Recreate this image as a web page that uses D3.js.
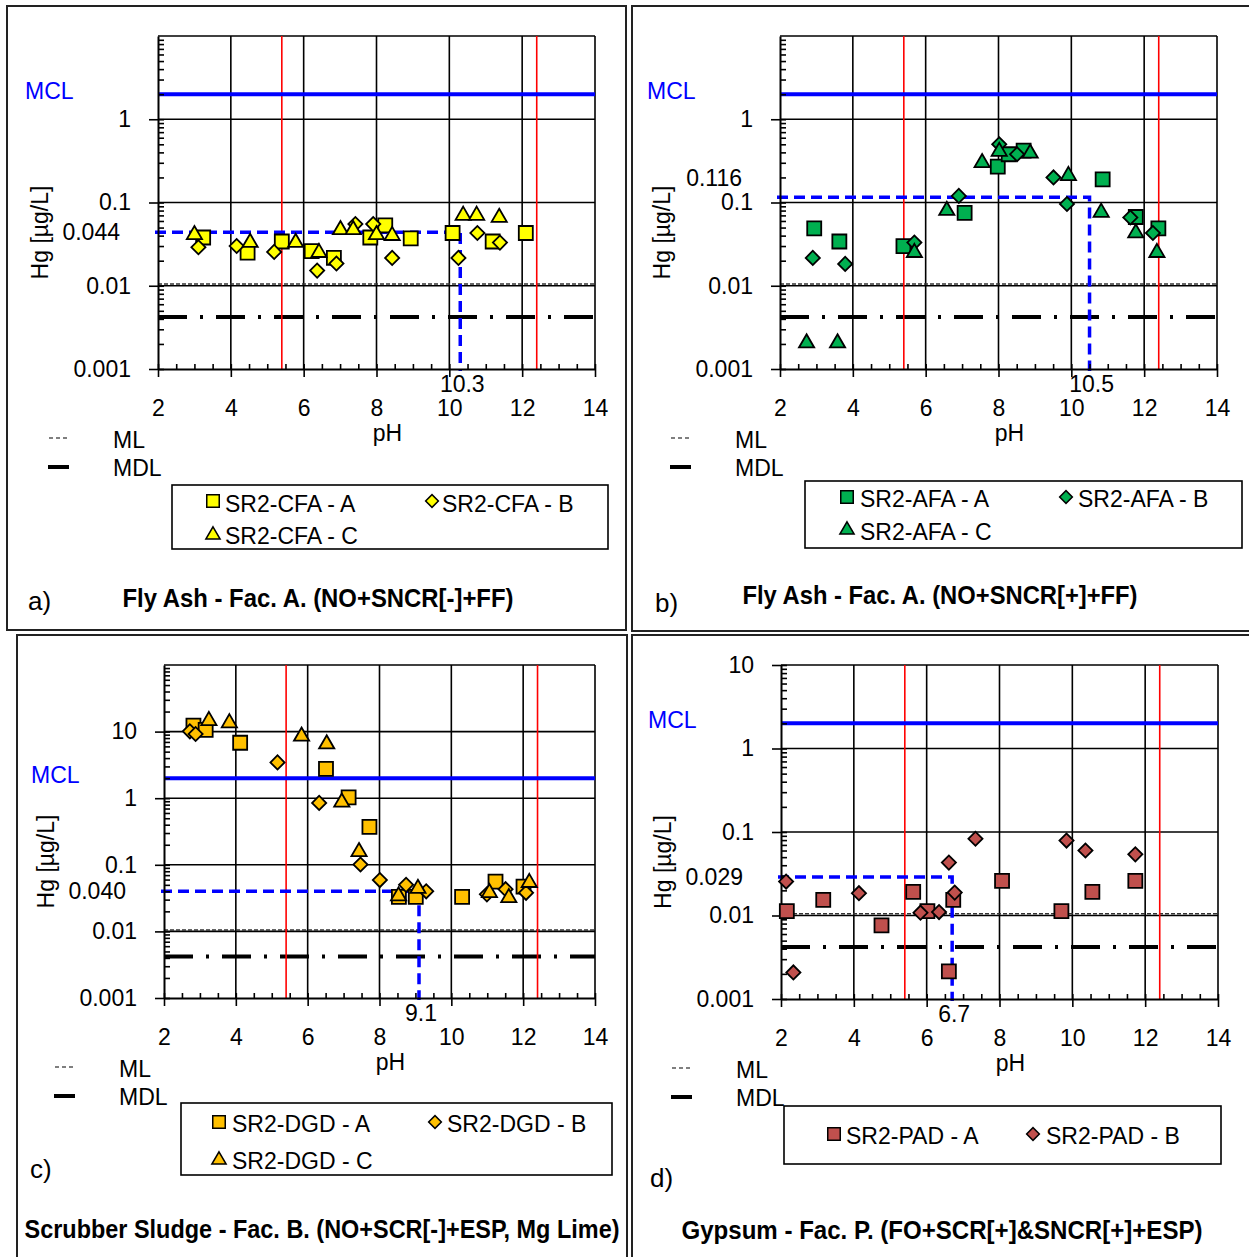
<!DOCTYPE html>
<html>
<head>
<meta charset="utf-8">
<script src="https://cdn.jsdelivr.net/npm/d3@7"></script>
<style>
  body { margin: 0; background: #fff; }
  svg { display: block; }
  text { font-family: "Liberation Sans", Arial, sans-serif; }
</style>
</head>
<body>
<svg id="chart" width="1249" height="1257"></svg>
<script>
// ---- data ----
const phTicks = [2, 4, 6, 8, 10, 12, 14];
const mclValue = 2, mlValue = 0.0105, mdlValue = 0.0042;
const phLimits = [5.4, 12.4];

// [pH, Hg ug/L]
const cfaA = [[3.24, 0.038], [4.46, 0.025], [5.40, 0.034], [6.22, 0.026], [6.83, 0.0216], [7.83, 0.038], [8.24, 0.053], [8.94, 0.037], [10.09, 0.043], [11.19, 0.034], [12.10, 0.043]];
const cfaB = [[3.11, 0.029], [4.16, 0.030], [5.19, 0.0255], [6.37, 0.0152], [6.90, 0.0185], [7.42, 0.055], [7.91, 0.055], [8.43, 0.0216], [10.25, 0.0216], [10.77, 0.043], [11.39, 0.033]];
const cfaC = [[3.00, 0.041], [4.53, 0.033], [5.78, 0.033], [6.42, 0.025], [7.01, 0.047], [7.36, 0.047], [8.00, 0.041], [8.43, 0.040], [10.38, 0.070], [10.75, 0.070], [11.37, 0.066]];

const afaA = [[2.94, 0.049], [3.63, 0.034], [5.39, 0.030], [7.07, 0.075], [7.98, 0.27], [8.28, 0.38], [8.69, 0.42], [10.86, 0.19], [11.77, 0.067], [12.39, 0.049]];
const afaB = [[2.90, 0.0216], [3.79, 0.0183], [5.69, 0.033], [6.91, 0.12], [8.02, 0.50], [8.51, 0.38], [9.51, 0.20], [9.88, 0.096], [11.62, 0.066], [12.24, 0.043]];
const afaC = [[2.73, 0.00205], [3.58, 0.00205], [5.69, 0.025], [6.58, 0.080], [7.55, 0.30], [8.02, 0.41], [8.87, 0.39], [9.92, 0.21], [10.82, 0.076], [11.77, 0.043], [12.35, 0.025]];

const dgdA = [[2.82, 12.3], [3.16, 10.6], [4.12, 6.8], [6.51, 2.75], [7.14, 1.03], [7.72, 0.37], [8.54, 0.033], [9.01, 0.033], [10.30, 0.033], [11.23, 0.056], [12.01, 0.047]];
const dgdB = [[2.72, 10.1], [2.88, 9.2], [5.16, 3.45], [6.32, 0.85], [7.47, 0.101], [8.01, 0.059], [8.74, 0.050], [9.30, 0.040], [10.99, 0.036], [11.51, 0.043], [12.08, 0.038]];
const dgdC = [[3.25, 14.6], [3.82, 13.5], [5.83, 8.5], [6.53, 6.5], [6.95, 0.87], [7.43, 0.157], [8.53, 0.034], [9.07, 0.044], [11.06, 0.038], [11.60, 0.032], [12.17, 0.054]];

const padA = [[2.16, 0.0113], [3.16, 0.0154], [4.76, 0.0076], [5.63, 0.0192], [6.02, 0.0113], [6.73, 0.0154], [6.61, 0.00214], [8.07, 0.026], [9.70, 0.0113], [10.55, 0.0192], [11.73, 0.026]];
const padB = [[2.14, 0.0255], [2.34, 0.00208], [4.14, 0.0185], [5.83, 0.0108], [6.34, 0.011], [6.61, 0.043], [6.77, 0.0188], [7.34, 0.083], [9.84, 0.079], [10.36, 0.060], [11.73, 0.054]];

const yTicksTo1 = [0.001, 0.01, 0.1, 1];
const yTicksTo10 = [0.001, 0.01, 0.1, 1, 10];

const medianHg = [0.044, 0.116, 0.040, 0.029];
const medianHgLabels = ["0.044", "0.116", "0.040", "0.029"];
const medianPh = [10.3, 10.5, 9.1, 6.7];
const medianPhLabels = ["10.3", "10.5", "9.1", "6.7"];

const panelTags = ["a)", "b)", "c)", "d)"];
const panelTitles = [
  "Fly Ash - Fac. A. (NO+SNCR[-]+FF)",
  "Fly Ash - Fac. A. (NO+SNCR[+]+FF)",
  "Scrubber Sludge - Fac. B. (NO+SCR[-]+ESP, Mg Lime)",
  "Gypsum  - Fac. P. (FO+SCR[+]&SNCR[+]+ESP)"
];
const seriesNames = [
  ["SR2-CFA - A", "SR2-CFA - B", "SR2-CFA - C"],
  ["SR2-AFA - A", "SR2-AFA - B", "SR2-AFA - C"],
  ["SR2-DGD - A", "SR2-DGD - B", "SR2-DGD - C"],
  ["SR2-PAD - A", "SR2-PAD - B"]
];
const fills = ["#FFFF00", "#00B050", "#FFC000", "#C0504D"];

// ---- layout of the four panels ----
const panels = [
  { frame: [7, 6, 619, 624], left: 158, right: 595, top: 36, bottom: 369, yMax: 10, yTicks: yTicksTo1,
    series: [cfaA, cfaB, cfaC], hgDy: 0,
    legend: { box: [172, 485, 436, 64], items: [[213, 501, 225, 504], [432, 501, 442, 504], [213, 535, 225, 536]] },
    tag: [28, 610], title: [318, 607, 391] },
  { frame: [632, 6, 622, 625], left: 780, right: 1217, top: 36, bottom: 369, yMax: 10, yTicks: yTicksTo1,
    series: [afaA, afaB, afaC], hgDy: -19,
    legend: { box: [805, 481, 437, 67], items: [[847, 497, 860, 499], [1066, 497, 1078, 499], [847, 530, 860, 532]] },
    tag: [655, 612], title: [940, 604, 395] },
  { frame: [17, 635, 610, 630], left: 164, right: 595, top: 665, bottom: 998, yMax: 100, yTicks: yTicksTo10,
    series: [dgdA, dgdB, dgdC], hgDy: 0,
    legend: { box: [181, 1103, 431, 72], items: [[219, 1122, 232, 1124], [435, 1122, 447, 1124], [219, 1160, 232, 1161]] },
    tag: [30, 1178], title: [322, 1238, 595] },
  { frame: [632, 635, 622, 630], left: 781, right: 1218, top: 665, bottom: 999, yMax: 10, yTicks: yTicksTo10,
    series: [padA, padB], hgDy: 0,
    legend: { box: [784, 1106, 437, 58], items: [[834, 1134, 846, 1136], [1033, 1134, 1046, 1136]] },
    tag: [650, 1187], title: [942, 1239, 521] }
];

const svg = d3.select("#chart");
svg.append("rect").attr("width", 1249).attr("height", 1257).attr("fill", "#fff");

const FONT = "'Liberation Sans', Arial, sans-serif";
const FS = 23;

function markerPath(shape, big) {
  if (shape === 0) return d3.symbol(d3.symbolSquare, big ? 196 : 156)();
  if (shape === 1) return d3.symbol(d3.symbolSquare, big ? 100 : 81)();
  return d3.symbol(d3.symbolTriangle, big ? 100 : 88)();
}

function drawMarker(g, shape, cx, cy, fill, big) {
  g.append("path")
    .attr("d", markerPath(shape, big))
    .attr("transform", `translate(${cx},${cy})` + (shape === 1 ? " rotate(45)" : ""))
    .attr("fill", fill)
    .attr("stroke", "#000")
    .attr("stroke-width", big ? 1.8 : 1.5);
}

panels.forEach((p, i) => {
  const g = svg.append("g");
  const x = d3.scaleLinear().domain([2, 14]).range([p.left, p.right]);
  const y = d3.scaleLog().domain([0.001, p.yMax]).range([p.bottom, p.top]);

  // panel frame
  g.append("rect")
    .attr("x", p.frame[0]).attr("y", p.frame[1])
    .attr("width", p.frame[2]).attr("height", p.frame[3])
    .attr("fill", "none").attr("stroke", "#222").attr("stroke-width", 2);

  // grid
  const decades = d3.range(-2, Math.round(Math.log10(p.yMax)) + 1).map(e => Math.pow(10, e));
  g.selectAll(".hgrid").data(decades).enter().append("line")
    .attr("x1", p.left).attr("x2", p.right)
    .attr("y1", d => y(d)).attr("y2", d => y(d))
    .attr("stroke", "#000").attr("stroke-width", 1.6);
  g.selectAll(".vgrid").data(phTicks.slice(1)).enter().append("line")
    .attr("x1", d => x(d)).attr("x2", d => x(d))
    .attr("y1", p.top).attr("y2", p.bottom)
    .attr("stroke", "#000").attr("stroke-width", 1.6);

  // ML and MDL
  g.append("line")
    .attr("x1", p.left).attr("x2", p.right)
    .attr("y1", y(mlValue)).attr("y2", y(mlValue))
    .attr("stroke", "#333").attr("stroke-width", 1.3).attr("stroke-dasharray", "4,2");
  g.append("line")
    .attr("x1", p.left).attr("x2", p.right)
    .attr("y1", y(mdlValue)).attr("y2", y(mdlValue))
    .attr("stroke", "#000").attr("stroke-width", 4).attr("stroke-dasharray", "29,13,3,13");

  // pH limits
  g.selectAll(".red").data(phLimits).enter().append("line")
    .attr("x1", d => x(d)).attr("x2", d => x(d))
    .attr("y1", p.top).attr("y2", p.bottom)
    .attr("stroke", "#FF0000").attr("stroke-width", 1.6);

  // MCL
  g.append("line")
    .attr("x1", p.left).attr("x2", p.right)
    .attr("y1", y(mclValue)).attr("y2", y(mclValue))
    .attr("stroke", "#0000FF").attr("stroke-width", 4);
  g.append("text")
    .attr("x", p.left - 133).attr("y", y(mclValue) - 3).attr("dy", "0.35em")
    .attr("fill", "#0000FF").attr("font-size", FS).text("MCL");

  // median marker lines
  g.append("path")
    .attr("d", `M${p.left - 3},${y(medianHg[i])}H${x(medianPh[i])}V${p.bottom + 2}`)
    .attr("fill", "none").attr("stroke", "#0000FF").attr("stroke-width", 3.5)
    .attr("stroke-dasharray", "11,6");

  // axes
  const yAxis = g.append("g")
    .attr("transform", `translate(${p.left},0)`)
    .call(d3.axisLeft(y).tickValues(p.yTicks).tickSize(9).tickSizeOuter(0).tickPadding(18)
      .tickFormat(d3.format("~g")));
  const minors = [];
  decades.concat([0.001]).forEach(dec => {
    for (let k = 2; k <= 9; k++) if (dec * k < p.yMax) minors.push(dec * k);
  });
  g.append("g")
    .attr("transform", `translate(${p.left},0)`)
    .call(d3.axisRight(y).tickValues(minors.concat(p.yTicks)).tickSize(6).tickFormat(""))
    .call(a => a.select(".domain").remove());

  const xAxis = g.append("g")
    .attr("transform", `translate(0,${p.bottom})`)
    .call(d3.axisBottom(x).tickValues(phTicks).tickSize(8).tickSizeOuter(0).tickPadding(23)
      .tickFormat(d3.format("d")));
  g.append("g")
    .attr("transform", `translate(0,${p.bottom})`)
    .call(d3.axisTop(x).tickValues(d3.range(2, 14.01, 0.5)).tickSize(5).tickFormat(""))
    .call(a => a.select(".domain").remove());

  g.selectAll(".tick line").attr("stroke", "#000").attr("stroke-width", 1.6);
  [yAxis, xAxis].forEach(a => {
    a.select(".domain").attr("stroke", "#000").attr("stroke-width", 2);
    a.selectAll("text").attr("font-size", FS).attr("font-family", FONT).attr("fill", "#000");
  });

  // special labels
  g.append("text")
    .attr("x", p.left - 38).attr("y", y(medianHg[i]) + p.hgDy).attr("dy", "0.35em")
    .attr("text-anchor", "end").attr("font-size", FS).text(medianHgLabels[i]);
  g.append("text")
    .attr("x", x(medianPh[i]) + 2).attr("y", p.bottom + 23)
    .attr("text-anchor", "middle").attr("font-size", FS).text(medianPhLabels[i]);

  // axis titles
  g.append("text")
    .attr("x", (p.left + p.right) / 2 + 11).attr("y", p.bottom + 72)
    .attr("text-anchor", "middle").attr("font-size", FS).text("pH");
  const midY = (p.top + p.bottom) / 2 + 30;
  g.append("text")
    .attr("transform", `translate(${p.left - 110},${midY}) rotate(-90)`)
    .attr("text-anchor", "middle").attr("font-size", FS).text("Hg [µg/L]");

  // data points
  p.series.forEach((s, k) => {
    s.forEach(d => drawMarker(g, k, x(d[0]), y(d[1]), fills[i], true));
  });

  // ML / MDL key
  const mlY = p.bottom + 69, mdlY = p.bottom + 98;
  g.append("line").attr("x1", p.left - 109).attr("x2", p.left - 90)
    .attr("y1", mlY).attr("y2", mlY)
    .attr("stroke", "#000").attr("stroke-width", 1.2).attr("stroke-dasharray", "4,3");
  g.append("text").attr("x", p.left - 45).attr("y", mlY + 2).attr("dy", "0.35em")
    .attr("font-size", FS).text("ML");
  g.append("line").attr("x1", p.left - 110).attr("x2", p.left - 89)
    .attr("y1", mdlY).attr("y2", mdlY)
    .attr("stroke", "#000").attr("stroke-width", 4);
  g.append("text").attr("x", p.left - 45).attr("y", mdlY + 1).attr("dy", "0.35em")
    .attr("font-size", FS).text("MDL");

  // legend
  const lb = p.legend.box;
  g.append("rect").attr("x", lb[0]).attr("y", lb[1]).attr("width", lb[2]).attr("height", lb[3])
    .attr("fill", "#fff").attr("stroke", "#000").attr("stroke-width", 1.6);
  p.legend.items.forEach((it, k) => {
    drawMarker(g, k, it[0], it[1], fills[i], false);
    g.append("text").attr("x", it[2]).attr("y", it[3]).attr("dy", "0.35em")
      .attr("font-size", FS).text(seriesNames[i][k]);
  });

  // tag and title
  g.append("text").attr("x", p.tag[0]).attr("y", p.tag[1])
    .attr("font-family", "'Liberation Serif', 'Times New Roman', serif").attr("font-size", 26)
    .text(panelTags[i]);
  g.append("text").attr("x", p.title[0] - p.title[2] / 2).attr("y", p.title[1])
    .attr("font-family", "Lato, 'Open Sans', sans-serif").attr("font-weight", 700).attr("font-size", 25)
    .attr("textLength", p.title[2]).attr("lengthAdjust", "spacingAndGlyphs")
    .text(panelTitles[i]);
});
</script>
</body>
</html>
